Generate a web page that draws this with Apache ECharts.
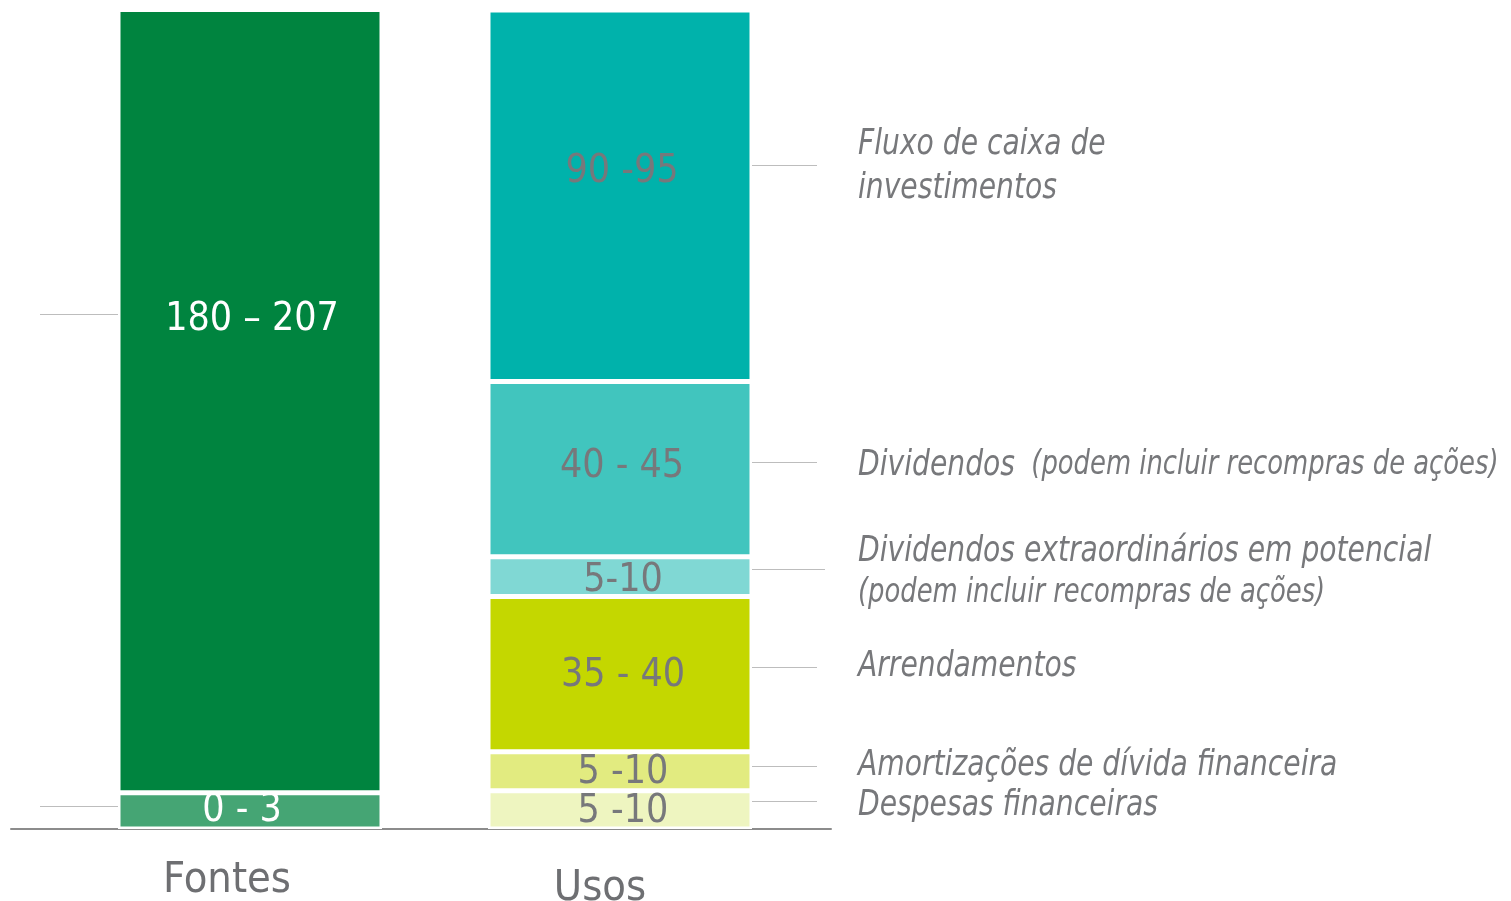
<!DOCTYPE html>
<html><head><meta charset="utf-8">
<script src="https://cdn.jsdelivr.net/npm/echarts@6/dist/echarts.min.js"></script>
<style>html,body{margin:0;padding:0;background:#fff}#c{width:1511px;height:901px}</style>
</head><body><div id="c"></div>
<script>
// ---- data ----
const categories = ['Fontes', 'Usos'];
// stack order: bottom -> top; heights as drawn in the picture
const fontesRanges = ['0 - 3', '180 – 207'];
const fontesHeights = [8.6, 186.4];
const usosRanges = ['5 -10', '5 -10', '35 - 40', '5-10', '40 - 45', '90 -95'];
const usosHeights = [9.1, 9.3, 36.9, 9.5, 41.7, 88.4];
const usosNames = [
  'Despesas financeiras',
  'Amortizações de dívida financeira',
  'Arrendamentos',
  'Dividendos extraordinários em potencial|(podem incluir recompras de ações)',
  'Dividendos|(podem incluir recompras de ações)',
  'Fluxo de caixa de|investimentos'
];

// ---- styles ----
const FONT = '"Liberation Sans Narrow", "DejaVu Sans Condensed", Roboto, sans-serif';
const fontesColors = ['#45A574', '#00843F'];
const usosColors = ['#EEF5C0', '#E2EB80', '#C4D700', '#80D8D4', '#41C5BE', '#00B2AB'];
const fontesLabelOffset = [[-8, 0], [2, -81]];
const usosLabelOffset = [[3, 2], [3, 2], [3, 2], [3, 4], [2, -2], [2, -24]];
const usosLeaderDy = [-9, -5, -7, -8, -7, -31];
const usosLeaderEnd = [817, 817, 817, 825, 817, 817];
const usosTextDy = [4, -1, -1, 2, 3, 1];
const fontesLeaderDy = [-5, -87];
const GRAY = '#77787B';
const LINE = '#BDBDBD';

const chart = echarts.init(document.getElementById('c'), null, {renderer: 'canvas'});

const series = [];
fontesHeights.forEach((v, i) => {
  series.push({
    type: 'bar', stack: 'total', barWidth: 264,
    data: [v, '-'],
    itemStyle: {color: fontesColors[i], borderColor: '#fff', borderWidth: 2.5},
    label: {show: true, position: 'inside', formatter: () => fontesRanges[i],
      color: '#fff', fontFamily: FONT, fontSize: 39, offset: fontesLabelOffset[i]},
    emphasis: {disabled: true}, silent: true
  });
});
usosHeights.forEach((v, i) => {
  series.push({
    type: 'bar', stack: 'total', barWidth: 264,
    data: ['-', v],
    itemStyle: {color: usosColors[i], borderColor: '#fff', borderWidth: 2.5},
    label: {show: true, position: 'inside', formatter: () => usosRanges[i],
      color: GRAY, fontFamily: FONT, fontSize: 39, offset: usosLabelOffset[i]},
    emphasis: {disabled: true}, silent: true
  });
});

chart.setOption({
  animation: false,
  backgroundColor: '#fff',
  grid: [
    {left: 65, right: 706, top: 9.5, bottom: 72, outerBoundsMode: 'none', containLabel: false},
    {left: 11, right: 680, top: 9.5, bottom: 72, outerBoundsMode: 'none', containLabel: false}
  ],
  xAxis: [
    {type: 'category', gridIndex: 0, data: categories,
      axisLine: {show: false}, axisTick: {show: false},
      axisLabel: {margin: 30, formatter: v => v === 'Fontes' ? '{f|Fontes}' : '{u|Usos}',
        rich: {
          f: {fontFamily: FONT, fontSize: 43, color: '#6E6F72', padding: [0, 46, 0, 0]},
          u: {fontFamily: FONT, fontSize: 43, color: '#6E6F72', padding: [8, 40, 0, 0]}
        }}},
    {type: 'value', gridIndex: 1, min: 0, max: 1,
      axisLine: {show: true, lineStyle: {color: '#8C8C8C', width: 2}},
      axisTick: {show: false}, axisLabel: {show: false}, splitLine: {show: false}}
  ],
  yAxis: [
    {type: 'value', gridIndex: 0, min: 0, max: 195, show: false, splitLine: {show: false}},
    {type: 'value', gridIndex: 1, min: 0, max: 1, show: false, splitLine: {show: false}}
  ],
  series: series
});

// leader lines and side labels, positioned through the chart's own scales
const graphics = [];
function centerY(heights, i, cat) {
  let base = 0;
  for (let k = 0; k < i; k++) base += heights[k];
  return chart.convertToPixel({xAxisIndex: 0, yAxisIndex: 0}, [cat, base + heights[i] / 2])[1];
}
const usosX = chart.convertToPixel({xAxisIndex: 0, yAxisIndex: 0}, ['Usos', 0])[0];
const fontesX = chart.convertToPixel({xAxisIndex: 0, yAxisIndex: 0}, ['Fontes', 0])[0];
const half = 131;

usosHeights.forEach((v, i) => {
  const y = Math.round(centerY(usosHeights, i, 'Usos') + usosLeaderDy[i]) + 0.5;
  graphics.push({type: 'line', shape: {x1: usosX + half, y1: y, x2: usosLeaderEnd[i], y2: y},
    style: {stroke: LINE, lineWidth: 1}, silent: true});
  const parts = usosNames[i].split('|');
  let text;
  if (i === 4) {
    text = '{a|' + parts[0] + '}{b|  ' + parts[1] + '}';
  } else if (i === 3) {
    text = '{a|' + parts[0] + '}\n{b|' + parts[1] + '}';
  } else {
    text = parts.map(p => '{a|' + p + '}').join('\n');
  }
  graphics.push({type: 'text', x: 858, y: y + usosTextDy[i], scaleX: 0.87,
    style: {text: text, verticalAlign: 'middle', align: 'left', fill: GRAY,
      rich: {
        a: {fontFamily: FONT, fontStyle: 'italic', fontSize: 36, fill: GRAY, lineHeight: 44},
        b: {fontFamily: FONT, fontStyle: 'italic', fontSize: 33, fill: GRAY, lineHeight: 40}
      }}, silent: true});
});
fontesHeights.forEach((v, i) => {
  const y = Math.round(centerY(fontesHeights, i, 'Fontes') + fontesLeaderDy[i]) + 0.5;
  graphics.push({type: 'line', shape: {x1: 40, y1: y, x2: fontesX - half, y2: y},
    style: {stroke: LINE, lineWidth: 1}, silent: true});
});
chart.setOption({graphic: graphics});
</script>
</body></html>
